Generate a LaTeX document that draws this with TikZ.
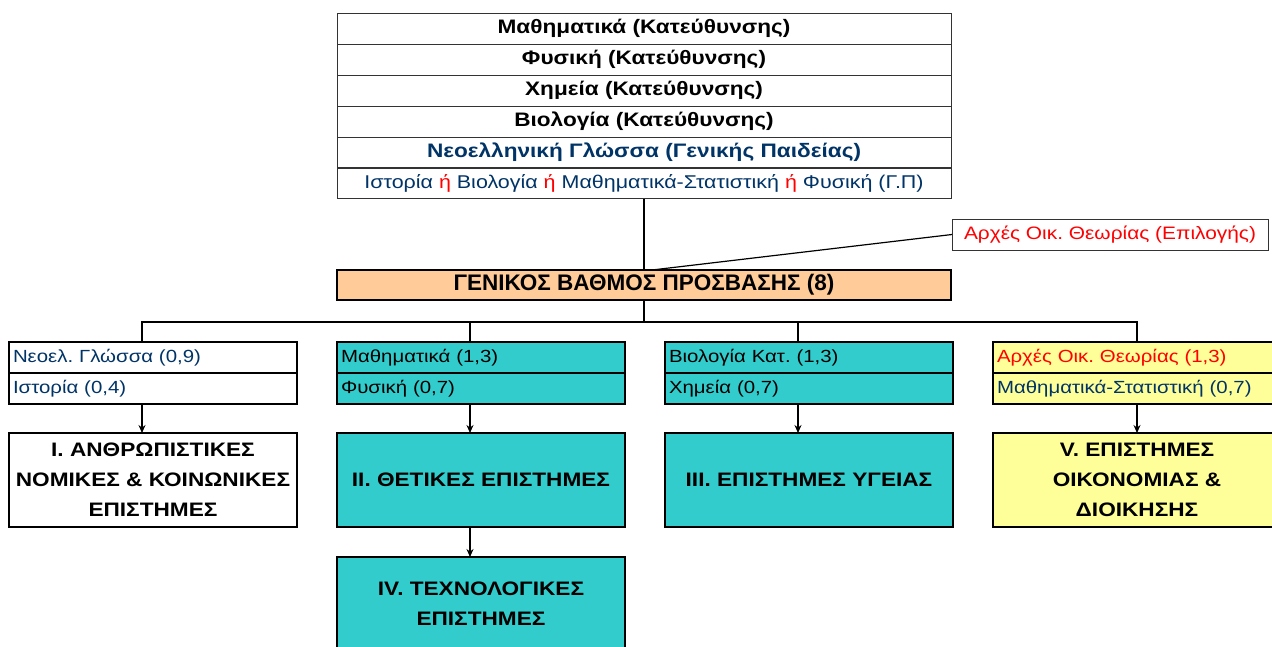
\documentclass[tikz,border=0pt]{standalone}
\usepackage{fontspec}
\setmainfont{Liberation Sans}[FakeStretch=1.16]
\newfontfamily\plainfont{Liberation Sans}
\usepackage{tikz}
\usetikzlibrary{
	arrows.meta,
	positioning,
	backgrounds,
	}
\definecolor{navyblue}{HTML}{003366}
\definecolor{tealfill}{HTML}{33CCCC}
\definecolor{yellowfill}{HTML}{FFFF99}
\definecolor{peachfill}{HTML}{FFCC99}
\definecolor{redtext}{HTML}{FF0000}
\frenchspacing

\begin{document}
\begin{tikzpicture}[x=1pt,y=-1pt,
	row/.style={draw=black!80,line width=0.8pt,minimum width=614pt,minimum height=31pt,inner sep=0pt,outer sep=0pt,text height=1.0em,text depth=0pt,font=\fontsize{19.5}{24}\selectfont\bfseries},
	subj/.style={draw,line width=1.4pt,minimum height=31pt,text width=280pt,align=left,inner xsep=4pt,inner ysep=0pt,outer sep=0pt,text height=1.0em,text depth=0pt,font=\fontsize{17.6}{22}\selectfont},
	faculty/.style={draw,line width=1.4pt,minimum width=288pt,minimum height=94pt,align=center,inner sep=0pt,outer sep=0pt,font=\fontsize{19.5}{30}\selectfont\bfseries},
	arr/.style={line width=1.2pt,-{Stealth[length=8pt,width=7pt]}},
	conn/.style={line width=1.2pt},
	]
\useasboundingbox (0,0) rectangle (1272,646);
% top table
\node[row] (t1) at (644,28.5) {Μαθηματικά (Κατεύθυνσης)};
\node[row] (t2) at (644,59.5) {Φυσική (Κατεύθυνσης)};
\node[row] (t3) at (644,90.5) {Χημεία (Κατεύθυνσης)};
\node[row] (t4) at (644,121.5) {Βιολογία (Κατεύθυνσης)};
\node[row,text=navyblue] (t5) at (644,152.5) {Νεοελληνική Γλώσσα (Γενικής Παιδείας)};
\node[row,font=\fontsize{18.5}{22}\selectfont,text=navyblue] (t6) at (644,183) {Ιστορία \textcolor{redtext}{ή} Βιολογία \textcolor{redtext}{ή} Μαθηματικά-Στατιστική \textcolor{redtext}{ή} Φυσική (Γ.Π)};
% general grade
\node[draw,line width=1.4pt,fill=peachfill,minimum width=614pt,minimum height=30pt,inner sep=0pt,outer sep=0pt,text height=1.0em,text depth=0pt,font=\plainfont\fontsize{22.5}{24}\selectfont\bfseries] (gbp) at (644,285) {ΓΕΝΙΚΟΣ ΒΑΘΜΟΣ ΠΡΟΣΒΑΣΗΣ (8)};
\node[draw=black!80,line width=0.8pt,minimum width=316pt,minimum height=31pt,inner sep=0pt,outer sep=0pt,text height=1.0em,text depth=0pt,text=redtext,font=\fontsize{18}{22}\selectfont] (elect) at (1110,234.5) {Αρχές Οικ. Θεωρίας (Επιλογής)};
\draw[conn] (t6.south) -- (gbp.north);
\draw[conn] (elect.west) -- ([xshift=8pt]gbp.north);
% subject weights
\node[subj,text=navyblue] (ng1) at (153,357.5) {Νεοελ. Γλώσσα (0,9)};
\node[subj,text=navyblue] (ng2) at (153,388.5) {Ιστορία (0,4)};
\node[subj,fill=tealfill] (mf1) at (481,357.5) {Μαθηματικά (1,3)};
\node[subj,fill=tealfill] (mf2) at (481,388.5) {Φυσική (0,7)};
\node[subj,fill=tealfill] (bx1) at (809,357.5) {Βιολογία Κατ. (1,3)};
\node[subj,fill=tealfill] (bx2) at (809,388.5) {Χημεία (0,7)};
\node[subj,fill=yellowfill,text=redtext] (ao1) at (1137,357.5) {Αρχές Οικ. Θεωρίας (1,3)};
\node[subj,fill=yellowfill,text=navyblue] (ao2) at (1137,388.5) {Μαθηματικά-Στατιστική (0,7)};
% faculties
\node[faculty] (fac1) at (153,480) {I. ΑΝΘΡΩΠΙΣΤΙΚΕΣ\\ΝΟΜΙΚΕΣ \& ΚΟΙΝΩΝΙΚΕΣ\\ΕΠΙΣΤΗΜΕΣ};
\node[faculty,fill=tealfill] (fac2) at (481,480) {II. ΘΕΤΙΚΕΣ ΕΠΙΣΤΗΜΕΣ};
\node[faculty,fill=tealfill] (fac3) at (809,480) {III. ΕΠΙΣΤΗΜΕΣ ΥΓΕΙΑΣ};
\node[faculty,fill=yellowfill] (fac5) at (1137,480) {V. ΕΠΙΣΤΗΜΕΣ\\ΟΙΚΟΝΟΜΙΑΣ \&\\ΔΙΟΙΚΗΣΗΣ};
\node[faculty,fill=tealfill] (fac4) at (481,604) {IV. ΤΕΧΝΟΛΟΓΙΚΕΣ\\ΕΠΙΣΤΗΜΕΣ};
% bus
\draw[conn] (gbp.south) -- ++(0,22);
\draw[conn] ([xshift=-11pt]ng1.north) -- ++(0,-20) -| (ao1.north);
\foreach \s in {mf1,bx1}
	\draw[conn] ([xshift=-11pt]\s.north) -- ++(0,-20);
% arrows
\foreach \s/\f/\dx in {ng2/fac1/-11,mf2/fac2/-11,bx2/fac3/-11,ao2/fac5/0}
	\draw[arr] ([xshift=\dx pt]\s.south) -- ([xshift=\dx pt]\f.north);
\draw[arr] ([xshift=-11pt]fac2.south) -- ([xshift=-11pt]fac4.north);
\end{tikzpicture}
\end{document}
